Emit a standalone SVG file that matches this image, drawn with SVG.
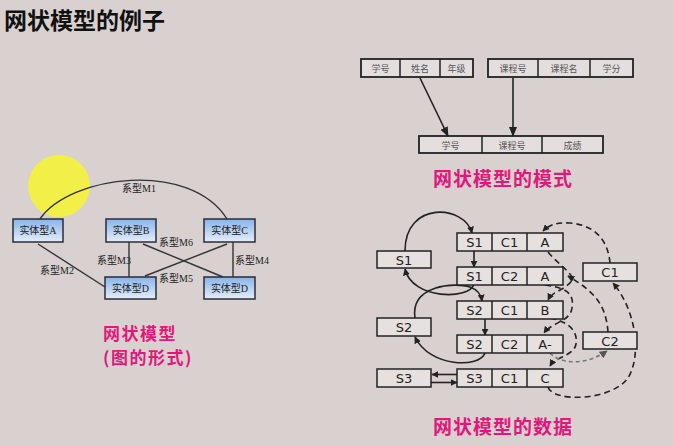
<svg xmlns="http://www.w3.org/2000/svg" width="673" height="446" viewBox="0 0 673 446">
<defs>
<linearGradient id="ent" x1="0" y1="0" x2="0" y2="1">
<stop offset="0" stop-color="#86b4ea"/>
<stop offset="1" stop-color="#e6edf8"/>
</linearGradient>
<marker id="ah" viewBox="0 0 10 10" refX="9" refY="5" markerWidth="7" markerHeight="7" orient="auto" markerUnits="userSpaceOnUse">
<path d="M0,0 L10,5 L0,10 z" fill="#222"/>
</marker>
<marker id="ah2" viewBox="0 0 10 10" refX="9" refY="5" markerWidth="10" markerHeight="10" orient="auto" markerUnits="userSpaceOnUse">
<path d="M0,1 L10,5 L0,9 z" fill="#222"/>
</marker>
<marker id="ahg" viewBox="0 0 10 10" refX="9" refY="5" markerWidth="8" markerHeight="8" orient="auto" markerUnits="userSpaceOnUse">
<path d="M0,0 L10,5 L0,10 z" fill="#555"/>
</marker>
</defs>
<style>
.title{font-family:"Noto Sans CJK SC","Noto Sans",sans-serif;font-weight:700;fill:#111;}
.pink{font-family:"Noto Sans CJK SC","Noto Sans",sans-serif;font-weight:700;fill:#e2177c;font-size:19px;}
.pk2{font-family:"Noto Sans CJK SC","Noto Sans",sans-serif;font-weight:700;fill:#e2177c;font-size:17px;letter-spacing:1.5px;}
.ent rect{fill:url(#ent);stroke:#2b2b3a;stroke-width:1.5;}
.ent text,.rel{font-family:"Liberation Serif","Noto Sans CJK SC",serif;font-size:10px;fill:#222;}
.ent text{text-anchor:middle;}
.edge{fill:none;stroke:#333;stroke-width:1.4;}
.cell{fill:#e4dede;stroke:#222;stroke-width:1.8;}
.sch text{font-family:"Noto Sans CJK SC",sans-serif;font-size:9px;fill:#555;text-anchor:middle;}
.rec{fill:#e6e0df;stroke:#222;stroke-width:1.5;}
.dt{font-family:"DejaVu Sans","Verdana",sans-serif;font-size:13px;fill:#222;text-anchor:middle;}
.sl{fill:none;stroke:#222;stroke-width:1.6;}
.dl{fill:none;stroke:#222;stroke-width:1.6;stroke-dasharray:6 4;}
.gl{fill:none;stroke:#777;stroke-width:1.6;stroke-dasharray:4 3;}
</style>
<rect x="0" y="0" width="673" height="446" fill="#d9d1d0"/>

<text class="title" x="4" y="29" font-size="23">网状模型的例子</text>

<circle cx="59" cy="186" r="31" fill="#f2f040" opacity="0.95"/>

<g id="connectors">
<path class="edge" d="M40,219 C 70,175 190,160 227,219"/>
<path class="edge" d="M38,244 L105,287"/>
<path class="edge" d="M129,242 L129,277"/>
<path class="edge" d="M143,244 L223,277"/>
<path class="edge" d="M227,244 L145,276"/>
<path class="edge" d="M233,242 L233,277"/>
<text class="rel" x="122" y="192">系型M1</text>
<text class="rel" x="40" y="274">系型M2</text>
<text class="rel" x="97" y="264">系型M3</text>
<text class="rel" x="159" y="246">系型M6</text>
<text class="rel" x="159" y="282">系型M5</text>
<text class="rel" x="235" y="264">系型M4</text>
</g>

<g id="entA" class="ent"><rect x="13" y="219" width="50" height="23"/><text x="38" y="234">实体型A</text></g>
<g id="entB" class="ent"><rect x="106" y="219" width="50" height="23"/><text x="131" y="234">实体型B</text></g>
<g id="entC" class="ent"><rect x="204" y="219" width="51" height="23"/><text x="229.5" y="234">实体型C</text></g>
<g id="entD" class="ent"><rect x="105" y="277" width="51" height="22"/><text x="130.5" y="292">实体型D</text></g>
<g id="entE" class="ent"><rect x="204" y="277" width="51" height="22"/><text x="229.5" y="292">实体型D</text></g>

<text class="pk2" x="103" y="340">网状模型</text>
<text class="pk2" x="103" y="364">(图的形式)</text>

<g id="schema" class="sch">
<rect class="cell" x="361" y="59" width="112" height="18"/>
<line x1="400" y1="59" x2="400" y2="77" stroke="#222" stroke-width="1.5"/>
<line x1="440" y1="59" x2="440" y2="77" stroke="#222" stroke-width="1.5"/>
<text x="380.5" y="72">学号</text><text x="420" y="72">姓名</text><text x="456.5" y="72">年级</text>
<rect class="cell" x="488" y="59" width="145" height="18"/>
<line x1="538" y1="59" x2="538" y2="77" stroke="#222" stroke-width="1.5"/>
<line x1="590" y1="59" x2="590" y2="77" stroke="#222" stroke-width="1.5"/>
<text x="513" y="72">课程号</text><text x="564" y="72">课程名</text><text x="611.5" y="72">学分</text>
<rect class="cell" x="419" y="136" width="184" height="17"/>
<line x1="482" y1="136" x2="482" y2="153" stroke="#222" stroke-width="1.5"/>
<line x1="542" y1="136" x2="542" y2="153" stroke="#222" stroke-width="1.5"/>
<text x="450.5" y="148.5">学号</text><text x="512" y="148.5">课程号</text><text x="572.5" y="148.5">成绩</text>
<path class="sl" d="M420,78 L448,136" marker-end="url(#ah2)"/>
<path class="sl" d="M513,78 L513,136" marker-end="url(#ah2)"/>
</g>

<text class="pink" x="433" y="186" letter-spacing="1">网状模型的模式</text>

<g id="links">
<path class="sl" d="M405,251 C 405,200 465,205 472,233" marker-end="url(#ah)"/>
<path class="sl" d="M474,251 L474,267" marker-end="url(#ah)"/>
<path class="sl" d="M474,284 C 470,300 412,300 405,269" marker-end="url(#ah)"/>
<path class="sl" d="M415,318 C 410,285 455,282 470,287 C 478,290 481,294 482,301" marker-end="url(#ah)"/>
<path class="sl" d="M485,318 L485,335" marker-end="url(#ah)"/>
<path class="sl" d="M485,353 C 480,368 430,368 415,337" marker-end="url(#ah)"/>
<path class="sl" d="M457,374.5 L432,374.5" marker-end="url(#ah)"/>
<path class="sl" d="M431,382.5 L457,382.5" marker-end="url(#ah)"/>
<path class="dl" d="M610,263 C 608,240 595,225 570,223 C 555,222 548,226 543,231" marker-end="url(#ah)"/>
<path class="dl" d="M548,252 C 556,262 566,268 573,278 C 568,290 553,290 548,300" marker-end="url(#ah)"/>
<path class="dl" d="M608,332 C 606,305 595,292 568,276" marker-end="url(#ah)"/>
<path class="dl" d="M545,285 C 570,288 574,296 572,308 C 570,322 552,322 544,333" marker-end="url(#ah)"/>
<path class="dl" d="M550,318 C 570,322 578,332 576,344 C 574,356 556,356 550,366" marker-end="url(#ah)"/>
<path class="gl" d="M550,353 C 560,364 585,366 607,351" marker-end="url(#ahg)"/>
<path class="dl" d="M548,387 C 552,402 610,402 628,378 C 642,355 636,310 613,283" marker-end="url(#ah)"/>
</g>

<g id="recS1C1A"><rect class="rec" x="457" y="233" width="106" height="18"/><line x1="492" y1="233" x2="492" y2="251" stroke="#222" stroke-width="1.5"/><line x1="527" y1="233" x2="527" y2="251" stroke="#222" stroke-width="1.5"/><text class="dt" x="474.5" y="247">S1</text><text class="dt" x="509.5" y="247">C1</text><text class="dt" x="545" y="247">A</text></g>
<g id="recS1C2A"><rect class="rec" x="457" y="267" width="106" height="18"/><line x1="492" y1="267" x2="492" y2="285" stroke="#222" stroke-width="1.5"/><line x1="527" y1="267" x2="527" y2="285" stroke="#222" stroke-width="1.5"/><text class="dt" x="474.5" y="281">S1</text><text class="dt" x="509.5" y="281">C2</text><text class="dt" x="545" y="281">A</text></g>
<g id="recS2C1B"><rect class="rec" x="457" y="301" width="106" height="18"/><line x1="492" y1="301" x2="492" y2="319" stroke="#222" stroke-width="1.5"/><line x1="527" y1="301" x2="527" y2="319" stroke="#222" stroke-width="1.5"/><text class="dt" x="474.5" y="315">S2</text><text class="dt" x="509.5" y="315">C1</text><text class="dt" x="545" y="315">B</text></g>
<g id="recS2C2A"><rect class="rec" x="457" y="335" width="106" height="18"/><line x1="492" y1="335" x2="492" y2="353" stroke="#222" stroke-width="1.5"/><line x1="527" y1="335" x2="527" y2="353" stroke="#222" stroke-width="1.5"/><text class="dt" x="474.5" y="349">S2</text><text class="dt" x="509.5" y="349">C2</text><text class="dt" x="545" y="349">A-</text></g>
<g id="recS3C1C"><rect class="rec" x="457" y="369" width="106" height="18"/><line x1="492" y1="369" x2="492" y2="387" stroke="#222" stroke-width="1.5"/><line x1="527" y1="369" x2="527" y2="387" stroke="#222" stroke-width="1.5"/><text class="dt" x="474.5" y="383">S3</text><text class="dt" x="509.5" y="383">C1</text><text class="dt" x="545" y="383">C</text></g>

<g id="ownS1"><rect class="rec" x="377" y="251" width="54" height="17"/><text class="dt" x="404" y="264.5">S1</text></g>
<g id="ownS2"><rect class="rec" x="377" y="318" width="54" height="18"/><text class="dt" x="404" y="332">S2</text></g>
<g id="ownS3"><rect class="rec" x="377" y="369" width="54" height="18"/><text class="dt" x="404" y="383">S3</text></g>
<g id="ownC1"><rect class="rec" x="583" y="263" width="54" height="18"/><text class="dt" x="610" y="277">C1</text></g>
<g id="ownC2"><rect class="rec" x="583" y="332" width="54" height="17"/><text class="dt" x="610" y="345.5">C2</text></g>

<text class="pink" x="433" y="434" letter-spacing="1">网状模型的数据</text>
</svg>
